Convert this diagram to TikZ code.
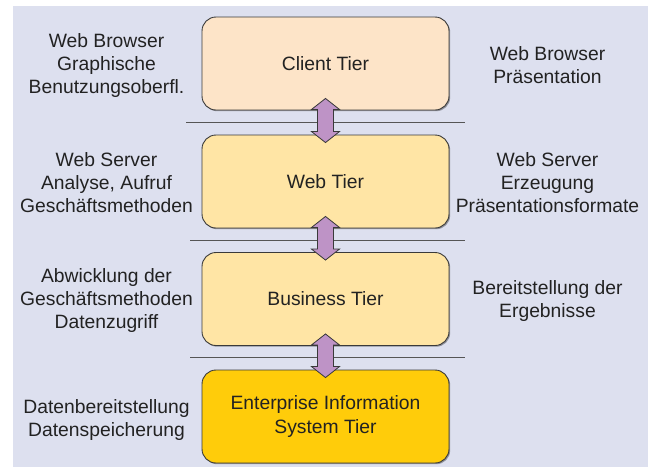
\documentclass[tikz,border=0pt]{standalone}
\usepackage{fontspec}
\setmainfont{Liberation Sans}
\usetikzlibrary{calc,shadows}
\definecolor{bgc}{HTML}{DDE0EF}
\definecolor{clientc}{HTML}{FDE4C8}
\definecolor{midc}{HTML}{FFE5A5}
\definecolor{eisc}{HTML}{FFCC0A}
\definecolor{arrowc}{HTML}{BE93C6}
\definecolor{edgec}{HTML}{3A3A3A}
\definecolor{sepc}{HTML}{555555}
\definecolor{txtc}{HTML}{222222}
\tikzset{
  tierbox/.style={draw=edgec, line width=0.9pt, rounded corners=14pt,
    minimum width=247pt, minimum height=93pt, align=center,
    font=\fontsize{19.3}{24}\selectfont, text=txtc,
    drop shadow={shadow xshift=1.2pt, shadow yshift=-1.2pt, fill=black, opacity=0.35}},
  sidetext/.style={align=center, font=\fontsize{19.3}{23}\selectfont, text=txtc, inner sep=0pt},
  seprule/.style={draw=sepc, line width=1pt},
  linkarrow/.style={fill=arrowc, draw=edgec, line width=0.8pt, line join=miter},
  linkshadow/.style={fill=black, opacity=0.45},
}
\newcommand\tierlinkpath[2]{%
  let \p1=(#1.south), \p2=(#2.north) in
  (\x1, \y1+12pt) -- (\x1+14pt, \y1+1pt) -- (\x1+8pt, \y1+1pt) --
  (\x1+8pt, \y2+3pt) -- (\x1+14pt, \y2+3pt) -- (\x1, \y2-8pt) --
  (\x1-14pt, \y2+3pt) -- (\x1-8pt, \y2+3pt) -- (\x1-8pt, \y1+1pt) --
  (\x1-14pt, \y1+1pt) -- cycle}
\newcommand\tierlink[2]{%
  \fill[linkshadow, xshift=2pt, yshift=-2pt] \tierlinkpath{#1}{#2};
  \draw[linkarrow] \tierlinkpath{#1}{#2};}
\begin{document}
\begin{tikzpicture}[x=1pt, y=-1pt]
\useasboundingbox (0,0) rectangle (648,467);
\fill[white] (0,0) rectangle (648,467);
\fill[bgc] (13,6) rectangle (648,467);

% separators
\coordinate (s1a) at (186,122.5); \coordinate (s1b) at (465,122.5);
\coordinate (s2a) at (190,240);   \coordinate (s2b) at (465,240);
\coordinate (s3a) at (190,357);   \coordinate (s3b) at (465,357);
\draw[seprule] (s1a) -- (s1b);
\draw[seprule] (s2a) -- (s2b);
\draw[seprule] (s3a) -- (s3b);

% tiers
\node[tierbox, fill=clientc] (client) at (325.5,63.5) {Client Tier};
\node[tierbox, fill=midc] (web) at (325.5,181.5) {Web Tier};
\node[tierbox, fill=midc] (business) at (325.5,299) {Business Tier};
\node[tierbox, fill=eisc] (eis) at (325.5,416.5) {Enterprise Information\\System Tier};

% links
\tierlink{client}{web}
\tierlink{web}{business}
\tierlink{business}{eis}

% left texts
\node[sidetext] (lc) at (106.5,66) {Web Browser\\Graphische\\Benutzungsoberfl.};
\node[sidetext] (lw) at (106.5,183) {Web Server\\Analyse, Aufruf\\Geschäftsmethoden};
\node[sidetext] (lb) at (106.5,301) {Abwicklung der\\Geschäftsmethoden\\Datenzugriff};
\node[sidetext] (le) at (106.5,419.5) {Datenbereitstellung\\Datenspeicherung};

% right texts
\node[sidetext] (rc) at (547.5,65) {Web Browser\\Präsentation};
\node[sidetext] (rw) at (547.5,183) {Web Server\\Erzeugung\\Präsentationsformate};
\node[sidetext] (rb) at (547.5,301) {Bereitstellung der\\Ergebnisse};
\end{tikzpicture}
\end{document}
